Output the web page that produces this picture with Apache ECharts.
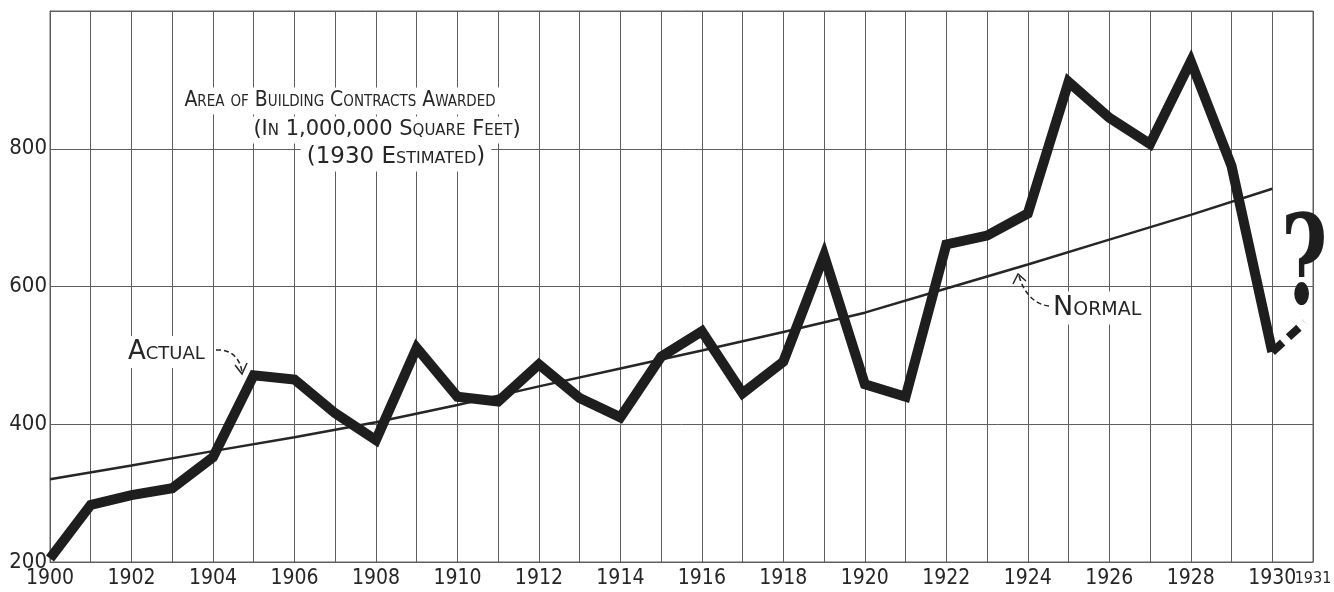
<!DOCTYPE html>
<html>
<head>
<meta charset="utf-8">
<title>Area of Building Contracts Awarded</title>
<script src="https://cdn.jsdelivr.net/npm/echarts@6/dist/echarts.min.js"></script>
<style>
html, body { margin: 0; padding: 0; background: #fff; }
#main { width: 1334px; height: 592px; }
</style>
</head>
<body>
<div id="main"></div>
<script>
// actual area awarded, 1900 - 1930 (1930 estimated)
var years = [1900, 1901, 1902, 1903, 1904, 1905, 1906, 1907, 1908, 1909,
  1910, 1911, 1912, 1913, 1914, 1915, 1916, 1917, 1918, 1919,
  1920, 1921, 1922, 1923, 1924, 1925, 1926, 1927, 1928, 1929, 1930];
var actual = [205, 283, 297, 307, 352, 471, 465, 416, 377, 511,
  440, 433, 487, 438, 410, 498, 535, 445, 491, 645,
  458, 440, 661, 674, 706, 897, 845, 807, 927, 775, 505];

// normal (trend) line
var normalYears = [1900, 1902, 1904, 1906, 1908, 1910, 1912, 1914, 1916,
  1918, 1920, 1922, 1924, 1926, 1928, 1930];
var normal = [320, 340, 361, 381, 403, 428, 455, 481, 507,
  534, 562, 597, 632, 668, 704, 742];

// the "?" continuation after 1930
var guessYears = [1930, 1930.8];
var guess = [505, 548];

var yTicks = [200, 400, 600, 800];
var lastYear = 1931;

var FONT = '"DejaVu Sans Condensed", "DejaVu Sans", sans-serif';
var WIDE = '"DejaVu Sans", sans-serif';
var INK = '#262626';
var GRID = '#5e5e5e';

function pairs(xs, ys) {
  return xs.map(function (x, i) { return [x, ys[i]]; });
}

// white-backed note text, so the grid lines stop round it
function note(x, y, text, font, align) {
  return {
    type: 'text', x: x, y: y, z: 10,
    style: {
      text: text, font: font, fill: INK,
      textAlign: align || 'left', textVerticalAlign: 'middle',
      backgroundColor: '#fff', padding: [3, 6]
    }
  };
}

var myChart = echarts.init(document.getElementById('main'));

var option = {
  backgroundColor: '#fff',
  animation: false,
  grid: {
    left: 50, right: 21, top: 11, bottom: 30,
    outerBoundsMode: 'none',
    show: true, borderColor: GRID, borderWidth: 1
  },
  xAxis: [
    {
      type: 'value',
      min: 1900,
      max: lastYear,
      interval: 1,
      axisLine: { show: true, lineStyle: { color: GRID, width: 1 } },
      axisTick: { show: false },
      splitLine: { show: true, lineStyle: { color: GRID, width: 1 } },
      axisLabel: {
        margin: 6,
        color: INK,
        fontFamily: FONT,
        fontSize: 21,
        showMaxLabel: false,
        formatter: function (v) {
          return (v % 2 === 0 && v !== lastYear) ? String(v) : '';
        }
      }
    },
    {
      // only carries the small end label "1931"
      type: 'value',
      position: 'bottom',
      min: 1900,
      max: lastYear,
      interval: 1,
      axisLine: { show: false },
      axisTick: { show: false },
      splitLine: { show: false },
      axisLabel: {
        margin: 9,
        color: INK,
        fontFamily: FONT,
        fontSize: 16,
        showMaxLabel: true,
        formatter: function (v) {
          return v === lastYear ? String(v) : '';
        }
      }
    }
  ],
  yAxis: {
    type: 'value',
    min: 200,
    max: 1000,
    interval: 200,
    axisLine: { show: true, lineStyle: { color: GRID, width: 1 } },
    axisTick: { show: false },
    splitLine: { show: true, lineStyle: { color: GRID, width: 1 } },
    axisLabel: {
      margin: 3,
      color: INK,
      fontFamily: FONT,
      fontSize: 22,
      formatter: function (v) {
        return yTicks.indexOf(v) >= 0 ? String(v) : '';
      }
    }
  },
  series: [
    {
      name: 'Normal',
      type: 'line',
      data: pairs(normalYears, normal),
      symbol: 'none',
      lineStyle: { color: INK, width: 2.5 },
      z: 3
    },
    {
      name: 'Actual',
      type: 'line',
      data: pairs(years, actual),
      symbol: 'none',
      lineStyle: { color: '#1e1e1e', width: 10, join: 'miter', cap: 'butt' },
      z: 4
    },
    {
      name: 'Estimate',
      type: 'line',
      data: pairs(guessYears, guess),
      symbol: 'none',
      lineStyle: { color: '#1e1e1e', width: 8, type: [14, 8] },
      z: 4
    }
  ],
  graphic: [
    // title block
    note(340, 101, 'Area of Building Contracts Awarded', 'normal small-caps 400 21px ' + FONT, 'center'),
    note(387, 130, '(In 1,000,000 Square Feet)', 'normal small-caps 400 21px ' + WIDE, 'center'),
    note(396, 157, '(1930 Estimated)', 'normal small-caps 400 23px ' + WIDE, 'center'),
    // "Actual" note
    note(122, 352, 'Actual', 'normal small-caps 400 26px ' + WIDE),
    {
      type: 'bezierCurve', z: 11,
      shape: { x1: 216, y1: 350, cpx1: 231, cpy1: 349, cpx2: 240, cpy2: 358, x2: 242, y2: 372 },
      style: { stroke: INK, lineWidth: 1.5, lineDash: [5, 3], fill: null }
    },
    {
      type: 'polyline', z: 11,
      shape: { points: [[235, 365], [242, 374], [247, 363]] },
      style: { stroke: INK, lineWidth: 1.5, fill: null }
    },
    // "Normal" note
    note(1047, 308, 'Normal', 'normal small-caps 400 27px ' + WIDE),
    {
      type: 'bezierCurve', z: 11,
      shape: { x1: 1049, y1: 306, cpx1: 1036, cpy1: 305, cpx2: 1024, cpy2: 294, x2: 1019, y2: 276 },
      style: { stroke: INK, lineWidth: 1.5, lineDash: [5, 3], fill: null }
    },
    {
      type: 'polyline', z: 11,
      shape: { points: [[1013, 284], [1018, 274], [1026, 281]] },
      style: { stroke: INK, lineWidth: 1.5, fill: null }
    },
    // question mark
    {
      type: 'text', x: 1281, y: 209, scaleX: 0.64, z: 10,
      style: {
        text: '?',
        font: 'normal normal bold 124px "DejaVu Serif", "Liberation Serif", serif',
        fill: '#1e1e1e', textVerticalAlign: 'top'
      }
    }
  ]
};

myChart.setOption(option);
</script>
</body>
</html>
